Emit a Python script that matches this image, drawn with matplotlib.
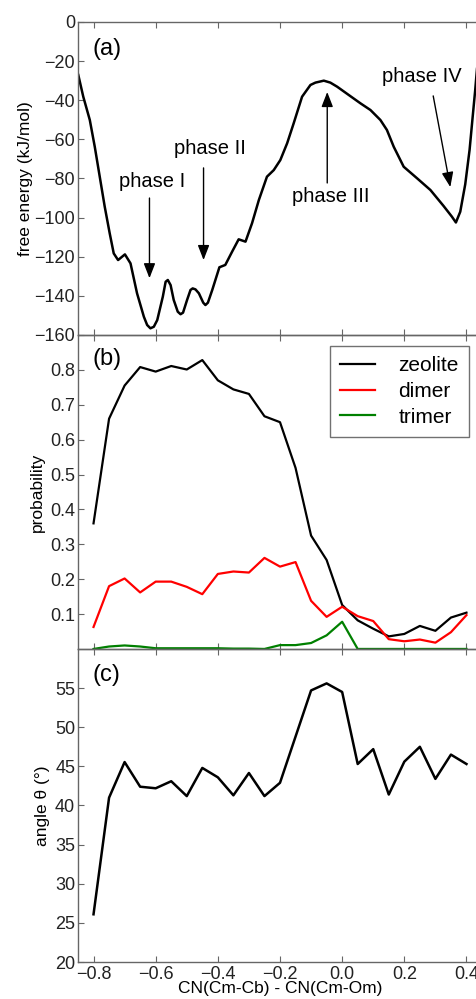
import numpy as np
import matplotlib
matplotlib.use('Agg')
import matplotlib.pyplot as plt

plt.rcParams['font.family'] = ['Liberation Sans', 'DejaVu Sans']

# free energy profile along the collective variable
cv_fe = [-0.849, -0.833, -0.812, -0.796, -0.780, -0.764, -0.748, -0.735, -0.721,
         -0.699, -0.681, -0.660, -0.638, -0.6275, -0.617, -0.606, -0.595, -0.577,
         -0.568, -0.561, -0.552, -0.542, -0.529, -0.520, -0.512, -0.499, -0.488,
         -0.481, -0.472, -0.461, -0.447, -0.440, -0.432, -0.418, -0.395, -0.376,
         -0.354, -0.333, -0.311, -0.290, -0.268, -0.242, -0.220, -0.199, -0.177,
         -0.156, -0.129, -0.102, -0.086, -0.059, -0.038, -0.016, 0.021, 0.059,
         0.091, 0.123, 0.144, 0.166, 0.198, 0.241, 0.284, 0.326, 0.353, 0.366,
         0.380, 0.396, 0.410, 0.420, 0.428, 0.436]
free_energy = [-27.1, -38.2, -50.1, -63.8, -79.1, -94.4, -108.0, -118.3, -121.7,
               -118.8, -123.4, -138.7, -150.7, -154.9, -156.6, -155.8, -152.4, -140.4,
               -132.8, -131.9, -134.5, -142.1, -148.1, -149.4, -148.6, -142.1, -137.0,
               -136.2, -136.7, -138.7, -143.5, -144.7, -143.5, -137.0, -125.4, -124.2,
               -117.4, -111.1, -112.3, -102.9, -91.0, -79.1, -75.7, -70.6, -62.0,
               -51.8, -38.2, -32.2, -31.0, -30.0, -31.0, -33.1, -37.3, -41.6,
               -45.0, -50.1, -55.2, -63.8, -74.0, -79.9, -85.9, -94.0, -99.5, -102.5,
               -97.0, -83.0, -65.4, -48.4, -35.0, -20.0]

# binned quantities
cv_bins = [-0.80, -0.75, -0.70, -0.65, -0.60, -0.55, -0.50, -0.45, -0.40, -0.35,
           -0.30, -0.25, -0.20, -0.15, -0.10, -0.05, 0.00, 0.05, 0.10, 0.15,
           0.20, 0.25, 0.30, 0.35, 0.40]
p_zeolite = [0.360, 0.660, 0.755, 0.808, 0.795, 0.811, 0.801, 0.828, 0.770, 0.744,
             0.731, 0.667, 0.650, 0.519, 0.325, 0.255, 0.126, 0.082, 0.058, 0.036,
             0.043, 0.066, 0.052, 0.090, 0.104]
p_dimer = [0.063, 0.180, 0.202, 0.162, 0.193, 0.193, 0.178, 0.157, 0.215, 0.222,
           0.219, 0.261, 0.236, 0.249, 0.138, 0.092, 0.121, 0.094, 0.080, 0.028,
           0.022, 0.027, 0.018, 0.048, 0.097]
p_trimer = [0.000, 0.007, 0.010, 0.007, 0.002, 0.002, 0.002, 0.002, 0.002, 0.001,
            0.001, 0.000, 0.011, 0.011, 0.017, 0.039, 0.078, 0.000, 0.000, 0.000,
            0.000, 0.000, 0.000, 0.000, 0.000]
angle = [26.1, 41.0, 45.55, 42.4, 42.2, 43.1, 41.2, 44.8, 43.6, 41.3,
         44.15, 41.2, 42.9, 48.8, 54.7, 55.6, 54.5, 45.3, 47.2, 41.4,
         45.6, 47.5, 43.4, 46.5, 45.3]

# phase labels: (text, text pos, arrow tail, arrow tip)
phases = [
    ('phase I', (-0.613, -81.3), (-0.620, -90.0), (-0.620, -131.0)),
    ('phase II', (-0.425, -64.9), (-0.446, -74.6), (-0.446, -121.7)),
    ('phase III', (-0.038, -89.0), (-0.048, -82.3), (-0.048, -35.8)),
    ('phase IV', (0.255, -28.1), (0.293, -37.8), (0.348, -84.4)),
]

fig = plt.figure(figsize=(4.77, 9.99), dpi=100)
left, width = 0.1635, 0.847
ax1 = fig.add_axes([left, 0.6647, width, 0.3133])
ax2 = fig.add_axes([left, 0.3504, width, 0.3143], sharex=ax1)
ax3 = fig.add_axes([left, 0.0370, width, 0.3134], sharex=ax1)

ax1.plot(cv_fe, free_energy, color='k', lw=1.8)
for name, tpos, tail, tip in phases:
    ax1.text(tpos[0], tpos[1], name, fontsize=14.5, ha='center', va='center')
    ax1.annotate('', xy=tip, xytext=tail,
                 arrowprops=dict(arrowstyle='-|>,head_width=0.35,head_length=0.9',
                                 color='k', lw=1.0, shrinkA=0, shrinkB=0))
ax1.set_ylim(-160, 0)
ax1.set_yticks(np.arange(-160, 1, 20))
ax1.set_ylabel('free energy (kJ/mol)', fontsize=12.5)
ax1.yaxis.set_label_coords(-0.111, 0.5)

ax2.plot(cv_bins, p_zeolite, color='k', lw=1.6, label='zeolite')
ax2.plot(cv_bins, p_dimer, color='#ff0000', lw=1.6, label='dimer')
ax2.plot(cv_bins, p_trimer, color='#008000', lw=1.6, label='trimer')
ax2.set_ylim(0, 0.9)
ax2.set_yticks(np.arange(0.1, 0.85, 0.1))
ax2.set_ylabel('probability', fontsize=12.5)
ax2.yaxis.set_label_coords(-0.082, 0.5)
leg = ax2.legend(loc='upper right', bbox_to_anchor=(0.968, 0.965), borderaxespad=0,
                 fontsize=15, fancybox=False, handlelength=1.7, handletextpad=1.1,
                 labelspacing=0.32, borderpad=0.5)
leg.get_frame().set_edgecolor('0.3')
leg.get_frame().set_linewidth(1.0)

ax3.plot(cv_bins, angle, color='k', lw=1.8)
ax3.set_ylim(20, 60)
ax3.set_yticks(np.arange(20, 56, 5))
ax3.set_ylabel('angle θ (°)', fontsize=12.5)
ax3.yaxis.set_label_coords(-0.069, 0.5)
ax3.set_xlabel('CN(Cm-Cb) - CN(Cm-Om)', fontsize=12.5)
ax3.xaxis.set_label_coords(0.5, -0.062)

ax1.set_xlim(-0.85, 0.45)
ax1.set_xticks(np.arange(-0.8, 0.41, 0.2))

for ax, lab, ly in [(ax1, '(a)', 0.914), (ax2, '(b)', 0.924), (ax3, '(c)', 0.917)]:
    ax.text(0.037, ly, lab, transform=ax.transAxes, fontsize=17, ha='left', va='center')
    for sp in ax.spines.values():
        sp.set_color('0.4')
        sp.set_linewidth(1.0)
    ax.tick_params(direction='in', top=True, right=True, length=4.5, width=0.8,
                   color='0.4', labelsize=13, labelcolor='#222222')
    ax.tick_params(axis='y', pad=2)
    ax.tick_params(axis='x', pad=3)
    ax.patch.set_alpha(0)

plt.setp(ax1.get_xticklabels(), visible=False)
plt.setp(ax2.get_xticklabels(), visible=False)

fig.savefig('out.png', dpi=100)
